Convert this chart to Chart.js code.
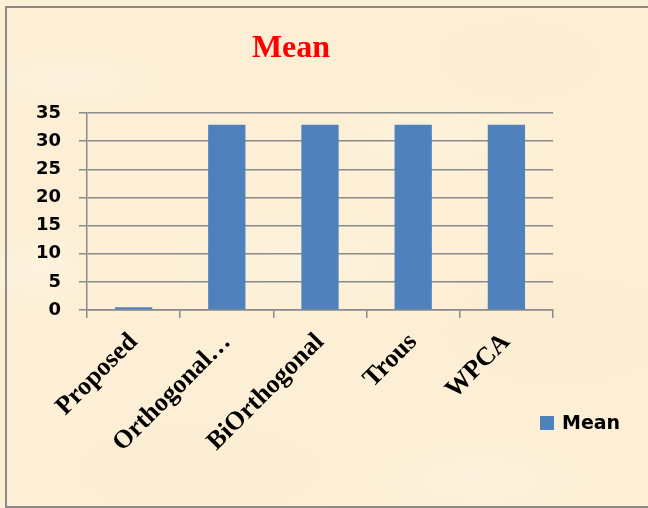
<!DOCTYPE html>
<html>
<head>
<meta charset="utf-8">
<script src="https://cdn.jsdelivr.net/npm/chart.js@4.4.1/dist/chart.umd.min.js"></script>
<style>
  html, body { margin: 0; padding: 0; }
  body {
    width: 648px; height: 508px; overflow: hidden; position: relative;
    background-color: #fcefd5;
    background-image:
      radial-gradient(ellipse 90px 30px at 70px 80px, rgba(255,250,238,0.35), rgba(255,250,238,0)),
      radial-gradient(ellipse 120px 40px at 430px 140px, rgba(255,249,235,0.35), rgba(255,249,235,0)),
      radial-gradient(ellipse 100px 50px at 520px 60px, rgba(242,226,192,0.18), rgba(242,226,192,0)),
      radial-gradient(ellipse 140px 60px at 300px 260px, rgba(255,250,238,0.3), rgba(255,250,238,0)),
      radial-gradient(ellipse 60px 40px at 40px 270px, rgba(255,251,240,0.35), rgba(255,251,240,0)),
      radial-gradient(ellipse 150px 70px at 560px 330px, rgba(244,228,196,0.18), rgba(244,228,196,0)),
      radial-gradient(ellipse 160px 60px at 200px 470px, rgba(245,230,200,0.2), rgba(245,230,200,0)),
      radial-gradient(ellipse 110px 40px at 480px 480px, rgba(255,250,238,0.3), rgba(255,250,238,0));
  }
  .frame {
    position: absolute; left: 5px; top: 6px; width: 680px; height: 498px;
    border: 2px solid #8a8a8a;
  }
  .wrap { position: absolute; left: 0; top: 0; width: 648px; height: 508px; }
</style>
</head>
<body>
<div class="frame"></div>
<div class="wrap"><canvas id="myChart" width="648" height="508"></canvas></div>
<script>
const ctx = document.getElementById('myChart');

// chart values
const methods = ["Proposed", "Orthogonal…", "BiOrthogonal", "Trous", "WPCA"];
const meanValues = [0.5, 32.9, 32.9, 32.9, 32.9];
const yTicks = [0, 5, 10, 15, 20, 25, 30, 35];
const chartTitle = "Mean";
const seriesName = "Mean";

const gridColor = '#8a8a8a';
const barColor = '#4f81bd';

// title and legend are placed by hand, like the Excel original
const decorations = {
  id: 'decorations',
  afterDraw(chart) {
    const c = chart.ctx;
    c.save();
    c.fillStyle = '#ff0000';
    c.font = 'bold 32px "Liberation Serif", "Times New Roman", serif';
    c.textAlign = 'center';
    c.textBaseline = 'alphabetic';
    c.fillText(chartTitle, 291, 57);

    const ds = chart.data.datasets[0];
    c.fillStyle = ds.backgroundColor;
    c.fillRect(540, 416, 14, 14);
    c.fillStyle = '#000';
    c.font = 'bold 19px "DejaVu Sans", sans-serif';
    c.textAlign = 'left';
    c.fillText(ds.label, 562, 429);
    c.restore();
  }
};

new Chart(ctx, {
  type: 'bar',
  data: {
    labels: methods,
    datasets: [{
      label: seriesName,
      data: meanValues,
      backgroundColor: barColor,
      borderWidth: 0,
      barPercentage: 0.4,
      categoryPercentage: 1.0
    }]
  },
  options: {
    responsive: false,
    animation: false,
    layout: { padding: { left: 0, right: 95, top: 113, bottom: 0 } },
    plugins: {
      legend: { display: false },
      title: { display: false },
      tooltip: { enabled: false }
    },
    scales: {
      x: {
        afterFit(scale) { scale.height = 198; },
        grid: {
          display: true,
          drawOnChartArea: false,
          drawTicks: true,
          tickLength: 8,
          color: gridColor,
          lineWidth: 1.5
        },
        border: { color: gridColor, width: 1.5 },
        ticks: {
          color: '#000',
          autoSkip: false,
          minRotation: 45,
          maxRotation: 45,
          padding: 9,
          font: { family: '"Liberation Serif", "Times New Roman", serif', size: 26, weight: 'bold' }
        }
      },
      y: {
        min: 0,
        max: 35,
        afterFit(scale) { scale.width = 87; },
        afterBuildTicks(scale) { scale.ticks = yTicks.map(v => ({ value: v })); },
        grid: {
          color: gridColor,
          lineWidth: 1.5,
          tickLength: 8
        },
        border: { color: gridColor, width: 1.5 },
        ticks: {
          color: '#000',
          padding: 18,
          font: { family: '"DejaVu Sans", sans-serif', size: 18, weight: 'bold' }
        }
      }
    }
  },
  plugins: [decorations]
});
</script>
</body>
</html>
